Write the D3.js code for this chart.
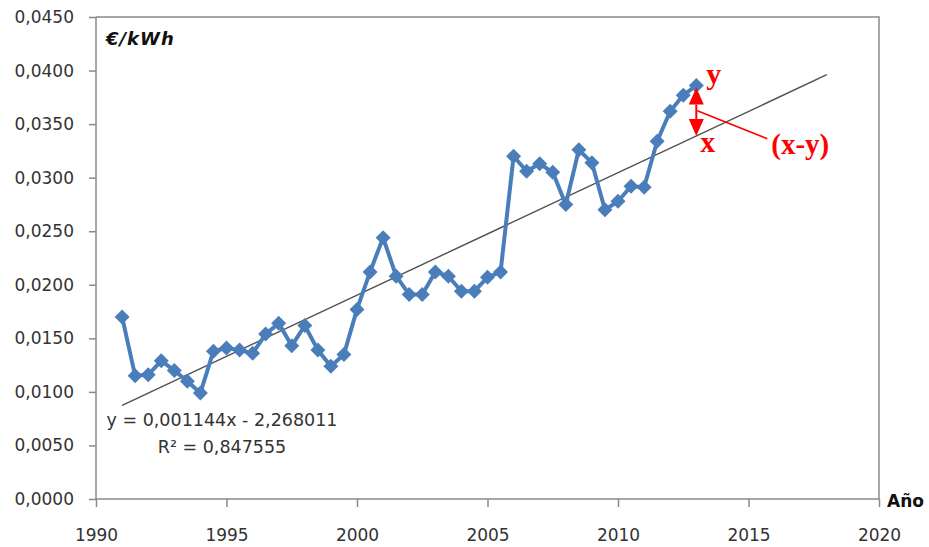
<!DOCTYPE html>
<html>
<head>
<meta charset="utf-8">
<script src="https://cdn.jsdelivr.net/npm/d3@7"></script>
<style>
  html, body { margin: 0; padding: 0; background: #fff; }
  svg { display: block; }
  text { font-family: "DejaVu Sans", "Noto Sans", sans-serif; }
</style>
</head>
<body>
<svg id="chart" width="929" height="547"></svg>
<script>
// Semi-annual electricity price (€/kWh), 1991–2013
const years = [
  1991, 1991.5, 1992, 1992.5, 1993, 1993.5, 1994, 1994.5, 1995, 1995.5,
  1996, 1996.5, 1997, 1997.5, 1998, 1998.5, 1999, 1999.5, 2000, 2000.5,
  2001, 2001.5, 2002, 2002.5, 2003, 2003.5, 2004, 2004.5, 2005, 2005.5,
  2006, 2006.5, 2007, 2007.5, 2008, 2008.5, 2009, 2009.5, 2010, 2010.5,
  2011, 2011.5, 2012, 2012.5, 2013
];
const prices = [
  0.0170, 0.0115, 0.0116, 0.0129, 0.0120, 0.0110, 0.0099, 0.0138, 0.0141, 0.0139,
  0.0136, 0.0154, 0.0164, 0.0143, 0.0162, 0.0139, 0.0124, 0.0135, 0.0177, 0.0212,
  0.0244, 0.0208, 0.0191, 0.0191, 0.0212, 0.0208, 0.0194, 0.0194, 0.0207, 0.0212,
  0.0320, 0.0306, 0.0313, 0.0305, 0.0275, 0.0326, 0.0314, 0.0270, 0.0278, 0.0292,
  0.0291, 0.0334, 0.0362, 0.0377, 0.0386
];

// Linear trend fitted to the series
const trendSlope = 0.00114352;
const trendIntercept = -2.268011;
const trendR2 = 0.847555;
const trendRange = [1991, 2018];

// Axis ticks
const xTicks = [1990, 1995, 2000, 2005, 2010, 2015, 2020];
const yTicks = [0, 0.005, 0.010, 0.015, 0.020, 0.025, 0.030, 0.035, 0.040, 0.045];

// Labels
const yUnitLabel = "€/kWh";
const xAxisLabel = "Año";
const highlightYear = 2013;

const locale = d3.formatLocale({ decimal: ",", thousands: ".", grouping: [3], currency: ["", " €"] });
const fmt4 = locale.format(".4f");
const fmt6 = locale.format(".6f");

const svg = d3.select("#chart");
const plotLeft = 96, plotRight = 879, plotTop = 17, plotBottom = 499;

const x = d3.scaleLinear().domain([1990, 2020]).range([plotLeft, plotRight]);
const y = d3.scaleLinear().domain([0, 0.045]).range([plotBottom, plotTop]);

const axisColor = "#8a8a8a";
const textColor = "#333333";
const blue = "#4a7ebb";
const red = "#ff0000";

// Plot-area frame (top and right edges)
svg.append("path")
  .attr("d", `M${plotLeft},${plotTop}H${plotRight}V${plotBottom}`)
  .attr("fill", "none").attr("stroke", axisColor).attr("stroke-width", 1.5);

// Y axis
const yAxis = svg.append("g")
  .attr("transform", `translate(${plotLeft},0)`)
  .call(d3.axisLeft(y).tickValues(yTicks).tickFormat(fmt4).tickSize(7).tickPadding(15));
// X axis
const xAxis = svg.append("g")
  .attr("transform", `translate(0,${plotBottom})`)
  .call(d3.axisBottom(x).tickValues(xTicks).tickFormat(d3.format("d")).tickSize(8).tickPadding(22));

[yAxis, xAxis].forEach(g => {
  g.select(".domain").attr("stroke", axisColor).attr("stroke-width", 1.5);
  g.selectAll(".tick line").attr("stroke", axisColor).attr("stroke-width", 1.5);
  g.selectAll(".tick text")
    .attr("fill", textColor)
    .style("font-size", "17px")
    .style("font-family", '"DejaVu Sans", sans-serif');
});
// Keep the axis lines flush with the plot area (no outer ticks)
yAxis.select(".domain").attr("d", `M0,${plotBottom}V${plotTop}`);
xAxis.select(".domain").attr("d", `M${plotLeft},0H${plotRight}`);

// Axis titles
svg.append("text")
  .attr("x", plotLeft + 10).attr("y", plotTop + 28)
  .attr("fill", "#111")
  .style("font-size", "18px").style("font-weight", "bold").style("font-style", "italic")
  .style("letter-spacing", "1px")
  .text(yUnitLabel);

svg.append("text")
  .attr("x", plotRight + 8).attr("y", plotBottom + 8)
  .attr("fill", "#111")
  .style("font-size", "17px").style("font-weight", "bold")
  .text(xAxisLabel);

// Trend line
const trend = t => trendSlope * t + trendIntercept;
svg.append("line")
  .attr("x1", x(trendRange[0])).attr("y1", y(trend(trendRange[0])))
  .attr("x2", x(trendRange[1])).attr("y2", y(trend(trendRange[1])))
  .attr("stroke", "#505050").attr("stroke-width", 1.4);

// Data series
const series = years.map((t, i) => ({ t, v: prices[i] }));
svg.append("path")
  .datum(series)
  .attr("fill", "none")
  .attr("stroke", blue)
  .attr("stroke-width", 4)
  .attr("stroke-linejoin", "round")
  .attr("d", d3.line().x(d => x(d.t)).y(d => y(d.v)));

const r = 7.5;
svg.append("g").selectAll("path")
  .data(series)
  .join("path")
  .attr("d", d => `M${x(d.t)},${y(d.v) - r}L${x(d.t) + r},${y(d.v)}L${x(d.t)},${y(d.v) + r}L${x(d.t) - r},${y(d.v)}Z`)
  .attr("fill", blue);

// Trend equation
const eqX = 222;
const eqY = y(trend(trendRange[0])) + 21;
svg.append("text")
  .attr("x", eqX).attr("y", eqY)
  .attr("text-anchor", "middle").attr("fill", textColor)
  .style("font-size", "17.5px")
  .text(`y = ${fmt6(trendSlope)}x ${trendIntercept < 0 ? "-" : "+"} ${fmt6(Math.abs(trendIntercept))}`);
svg.append("text")
  .attr("x", eqX).attr("y", eqY + 27)
  .attr("text-anchor", "middle").attr("fill", textColor)
  .style("font-size", "17.5px")
  .text(`R² = ${fmt6(trendR2)}`);

// Residual annotation for the last observation
const hv = prices[years.indexOf(highlightYear)];
const ax = x(highlightYear);
const yTop = y(hv) + 2;
const yBot = y(trend(highlightYear));
const yMid = (yTop + yBot) / 2;
const head = 17, hw = 7.5;

const ann = svg.append("g").attr("fill", red).attr("stroke", "none");
ann.append("line")
  .attr("x1", ax).attr("x2", ax).attr("y1", yTop + head).attr("y2", yBot - head)
  .attr("stroke", red).attr("stroke-width", 2);
ann.append("path").attr("d", `M${ax},${yTop}L${ax + hw},${yTop + head}L${ax - hw},${yTop + head}Z`);
ann.append("path").attr("d", `M${ax},${yBot}L${ax + hw},${yBot - head}L${ax - hw},${yBot - head}Z`);
ann.append("line")
  .attr("x1", ax + 1).attr("y1", yMid - 1).attr("x2", ax + 71).attr("y2", yMid + 27)
  .attr("stroke", red).attr("stroke-width", 1.5);

const serif = '"Liberation Serif", "DejaVu Serif", serif';
ann.append("text")
  .attr("x", ax + 10).attr("y", y(hv) - 2)
  .style("font-family", serif).style("font-size", "30px").style("font-weight", "bold")
  .text("y");
ann.append("text")
  .attr("x", ax + 4).attr("y", yBot + 16)
  .style("font-family", serif).style("font-size", "30px").style("font-weight", "bold")
  .text("x");
ann.append("text")
  .attr("x", ax + 75).attr("y", yMid + 42)
  .style("font-family", serif).style("font-size", "29px").style("font-weight", "bold")
  .text("(x-y)");
</script>
</body>
</html>
